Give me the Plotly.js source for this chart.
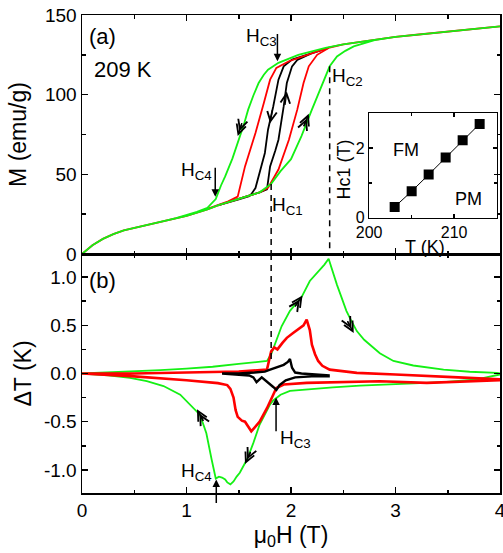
<!DOCTYPE html>
<html><head><meta charset="utf-8">
<script src="https://cdn.plot.ly/plotly-3.0.1.min.js"></script>
<style>html,body{margin:0;padding:0;background:#fff}#chart{width:503px;height:553px}</style>
</head><body><div id="chart"></div>
<script>
// ---------- panel (a): magnetisation M (emu/g) vs field (T) ----------
const lowH = [0,0.1,0.2,0.3,0.4,0.5,0.6,0.7,0.8,0.9,1.0,1.1,1.2,1.3,1.4,1.5,1.6,1.7];
const lowM = [0,5.5,9.5,12.5,14.8,16.3,17.8,19.5,21,22.5,24,26,28,30.5,32.5,34.3,36.3,38.7];
const upH = [2.5,2.7,3.0,3.2,3.5,3.8,4.0];
const upM = [131.5,133.5,136.3,137.6,139.5,141.3,142.8];

const gAscH = [1.81,1.9,2.0,2.1,2.2,2.3,2.37,2.44,2.52,2.6,2.7,2.8];
const gAscM = [44,52,59.5,74,90.6,107,117.8,124,127.5,130.3,132.3,134.2];
const gDscH = [2.33,2.07,1.88,1.78,1.74,1.69,1.64,1.59,1.55,1.50,1.44,1.37,1.33,1.28,1.2,1.1,1.0];
const gDscM = [129.3,125,120,115.7,112.5,107.3,99.5,90.6,81.5,71.7,60,48.7,43,34.5,29,26.5,24.3];

const rAscH = [1.78,1.88,1.98,2.06,2.12,2.17,2.25,2.36];
const rAscM = [41.5,53,71.7,90.6,107.3,117.8,125,129.3];
const rDscH = [2.36,2.17,1.98,1.86,1.80,1.74,1.66,1.56,1.49,1.4];
const rDscM = [129.5,125.3,121,116.8,109.4,94.8,76,55,36,33];

const kAscH = [1.77,1.80,1.85,1.88,1.93,1.96,2.01,2.06,2.2,2.36];
const kAscM = [40.5,55,65,71.7,92.6,107.3,117.8,121.8,126,129.3];
const kDscH = [2.36,2.2,2.01,1.93,1.88,1.83,1.78,1.75,1.70,1.66,1.62];
const kDscM = [129.3,126,122,117.8,109.4,92.6,78,63.4,50.8,41.4,37.5];

// ---------- panel (b): temperature change dT (K) vs field ----------
const gTupH = [0,0.25,0.5,0.75,1.0,1.25,1.5,1.65,1.77,1.81,1.86,1.91,1.99,2.05,2.10,2.18,2.23,2.28,2.32,2.36,2.40,2.44,2.48,2.53,2.58,2.63,2.70,2.76,2.85,2.98,3.17,3.46,3.71,3.97,4.0];
const gTupT = [0,0.01,0.02,0.035,0.05,0.07,0.10,0.115,0.13,0.2,0.34,0.49,0.65,0.73,0.79,0.96,1.02,1.08,1.13,1.19,1.05,0.92,0.80,0.65,0.54,0.44,0.35,0.29,0.21,0.13,0.083,0.04,0.018,0.007,0.0];
const gTdnH = [4.0,3.78,3.46,2.98,2.66,2.4,2.15,1.99,1.90,1.86,1.83,1.80,1.77,1.74,1.70,1.64,1.58,1.55,1.51,1.48,1.45,1.42,1.39,1.37,1.34,1.31,1.28,1.24,1.19,1.13,1.05,0.94,0.78,0.62,0.46,0.25,0];
const gTdnT = [-0.01,-0.062,-0.09,-0.107,-0.125,-0.145,-0.166,-0.18,-0.22,-0.25,-0.28,-0.32,-0.38,-0.45,-0.53,-0.72,-0.89,-0.95,-1.03,-1.07,-1.12,-1.15,-1.13,-1.10,-1.08,-1.07,-1.09,-0.89,-0.62,-0.43,-0.34,-0.22,-0.13,-0.08,-0.045,-0.02,0];

const rTupH = [0,0.5,1.0,1.5,1.77,1.81,1.84,1.87,1.92,1.96,2.02,2.07,2.12,2.15,2.18,2.20,2.23,2.26,2.30,2.37,2.5,2.63,3.0,3.3,3.6,4.0];
const rTupT = [0,0.0,0.01,0.02,0.04,0.23,0.27,0.25,0.32,0.37,0.42,0.46,0.50,0.56,0.45,0.30,0.2,0.13,0.08,0.04,0.02,0.007,-0.01,-0.028,-0.04,-0.06];
const rTdnH = [4.0,3.3,2.85,2.15,1.93,1.86,1.83,1.77,1.70,1.66,1.62,1.59,1.56,1.53,1.51,1.49,1.47,1.45,1.42,1.39,1.3,1.0,0.5,0];
const rTdnT = [-0.07,-0.097,-0.08,-0.097,-0.114,-0.15,-0.22,-0.36,-0.50,-0.55,-0.60,-0.55,-0.50,-0.49,-0.47,-0.45,-0.38,-0.25,-0.16,-0.12,-0.10,-0.07,-0.03,0];

const kTupH = [1.34,1.5,1.65,1.75,1.80,1.86,1.93,1.97,1.99,2.01,2.04,2.1,2.2,2.36];
const kTupT = [0.0,0.0,0.01,0.02,0.04,0.06,0.09,0.12,0.15,0.06,0.01,0.0,-0.01,-0.02];
const kTdnH = [2.36,2.2,2.04,1.95,1.89,1.86,1.83,1.77,1.72,1.67,1.64,1.60,1.5,1.34];
const kTdnT = [-0.03,-0.03,-0.04,-0.07,-0.12,-0.17,-0.14,-0.09,-0.04,-0.09,-0.04,-0.02,-0.01,0.0];

// ---------- inset: Hc1 vs T ----------
const insT = [203,205,207,209,211,213];
const insH = [0.31,0.76,1.24,1.73,2.23,2.70];

const GREEN = '#14f014', RED = '#ff0000', BLACK = '#000000';
const FONT = 'Liberation Sans, Arial, Helvetica, sans-serif';

function loop(aH, aM, dH, dM, minH) {
  const x = [], y = [];
  lowH.forEach((h, i) => { if (h >= minH && h < aH[0] - 1e-9) { x.push(h); y.push(lowM[i]); } });
  aH.forEach((h, i) => { x.push(h); y.push(aM[i]); });
  if (minH === 0) upH.forEach((h, i) => { if (h > aH[aH.length - 1] + 1e-9) { x.push(h); y.push(upM[i]); } });
  if (minH === 0) for (let i = upH.length - 1; i >= 0; i--) if (upH[i] > dH[0] + 1e-9) { x.push(upH[i]); y.push(upM[i]); }
  dH.forEach((h, i) => { x.push(h); y.push(dM[i]); });
  for (let i = lowH.length - 1; i >= 0; i--) if (lowH[i] >= minH && lowH[i] < dH[dH.length - 1] - 1e-9) { x.push(lowH[i]); y.push(lowM[i]); }
  return {x, y};
}

const kL = loop(kAscH, kAscM, kDscH, kDscM, 1.3);
const rL = loop(rAscH, rAscM, rDscH, rDscM, 0);
const gL = loop(gAscH, gAscM, gDscH, gDscM, 0);

function ln(xs, ys, color, w, xa, ya) {
  return {x: xs, y: ys, type: 'scatter', mode: 'lines', line: {color: color, width: w},
          xaxis: xa, yaxis: ya, hoverinfo: 'skip', showlegend: false};
}

const traces = [
  ln(kL.x, kL.y, BLACK, 1.8, 'x', 'y'),
  ln(rL.x, rL.y, RED, 1.8, 'x', 'y'),
  ln(gL.x, gL.y, GREEN, 1.8, 'x', 'y'),
  ln(gTupH.concat(gTdnH), gTupT.concat(gTdnT), GREEN, 1.8, 'x2', 'y2'),
  ln(rTupH.concat(rTdnH), rTupT.concat(rTdnT), RED, 2.6, 'x2', 'y2'),
  ln(kTupH.concat(kTdnH), kTupT.concat(kTdnT), BLACK, 2.4, 'x2', 'y2'),
  {x: insT, y: insH, type: 'scatter', mode: 'lines+markers', xaxis: 'x3', yaxis: 'y3',
   line: {color: '#000', width: 1}, marker: {symbol: 'square', size: 10, color: '#000'},
   hoverinfo: 'skip', showlegend: false}
];

const axBase = {showline: true, linecolor: '#000', linewidth: 1.5, mirror: 'allticks',
  ticks: 'inside', ticklen: 6, tickwidth: 1.5, tickcolor: '#000', showgrid: false, zeroline: false,
  ticklabeloverflow: 'allow',
  tickfont: {family: FONT, size: 19, color: '#000'}};

function chev(xa, ya, x, y, dx, dy, dbl) {
  const n = Math.hypot(dx, dy), L = 15;
  const base = {xref: xa, yref: ya, x: x, y: y, ax: -dx / n * L, ay: -dy / n * L,
    text: '', showarrow: true, arrowhead: 5, arrowsize: 1.45, arrowwidth: 1.3, arrowcolor: '#000'};
  return dbl ? [base, Object.assign({}, base, {standoff: 5})] : [base];
}
function txt(xa, ya, x, y, t, size, angle) {
  return {xref: xa, yref: ya, x: x, y: y, text: t, showarrow: false, xanchor: 'center', yanchor: 'middle',
    textangle: angle || 0, font: {family: FONT, size: size, color: '#000'}};
}
function arr(xa, ya, x, y, y0) {
  return {xref: xa, yref: ya, x: x, y: y, axref: xa, ayref: ya, ax: x, ay: y0, text: '',
    showarrow: true, arrowhead: 2, arrowsize: 1, arrowwidth: 1.5, arrowcolor: '#000'};
}

const annotations = [
  txt('paper', 'paper', 0.048, 0.955, '(a)', 22),
  txt('paper', 'paper', 0.097, 0.885, '209 K', 22),
  txt('paper', 'paper', 0.05, 0.444, '(b)', 22),
  txt('x', 'y', 1.714, 136, 'H<sub>C3</sub>', 19),
  arr('x', 'y', 1.87, 121, 139),
  txt('x', 'y', 1.10, 52, 'H<sub>C4</sub>', 19),
  arr('x', 'y', 1.275, 36, 55),
  txt('x', 'y', 2.54, 111, 'H<sub>C2</sub>', 19),
  txt('x', 'y', 1.97, 30, 'H<sub>C1</sub>', 19),
  txt('x2', 'y2', 2.04, -0.68, 'H<sub>C3</sub>', 19),
  arr('x2', 'y2', 1.857, -0.25, -0.616),
  txt('x2', 'y2', 1.095, -1.02, 'H<sub>C4</sub>', 19),
  arr('x2', 'y2', 1.285, -1.10, -1.36),
  txt('x3', 'y3', 204.3, 1.95, 'FM', 18),
  txt('x3', 'y3', 211.7, 0.55, 'PM', 18),
  txt('paper', 'paper', 0.8206, 0.515, 'T (K)', 18),
  txt('paper', 'paper', 0.626, 0.676, 'Hc1 (T)', 18, -90)
].concat(
  chev('x', 'y', 1.49, 74, -11, 34, true),
  chev('x', 'y', 2.17, 88, 10.5, -26, true),
  chev('x', 'y', 1.80, 82, -5, 30, false),
  chev('x', 'y', 1.96, 102, 4, -30, false),
  chev('x2', 'y2', 2.11, 0.81, 20, -30, true),
  chev('x2', 'y2', 2.60, 0.42, 10.5, 20, true),
  chev('x2', 'y2', 1.56, -0.94, -13.6, 30, true),
  chev('x2', 'y2', 1.10, -0.37, -14.6, -27, true)
);

const dashLine = {color: '#000', width: 1.5, dash: '6px,5px'};
const shapes = [
  {type: 'line', xref: 'x', yref: 'y', x0: 1.81, x1: 1.81, y0: 44, y1: 0, line: dashLine},
  {type: 'line', xref: 'x2', yref: 'y2', x0: 1.81, x1: 1.81, y0: 1.24, y1: 0.11, line: dashLine},
  {type: 'line', xref: 'x', yref: 'y', x0: 2.37, x1: 2.37, y0: 117.8, y1: 0, line: dashLine}
];

const layout = {
  width: 503, height: 553,
  margin: {l: 82, r: 3, t: 15, b: 60},
  paper_bgcolor: '#fff', plot_bgcolor: 'rgba(0,0,0,0)',
  font: {family: FONT, color: '#000'},
  showlegend: false,
  xaxis: Object.assign({}, axBase, {domain: [0, 1], anchor: 'y', range: [0, 4], dtick: 1, tick0: 0,
    showticklabels: false, minor: {dtick: 0.5, ticks: 'inside', ticklen: 3.5, tickcolor: '#000'}}),
  yaxis: Object.assign({}, axBase, {domain: [0.5, 1], anchor: 'x', range: [0, 150], dtick: 50, tick0: 0,
    minor: {dtick: 25, ticks: 'inside', ticklen: 3.5, tickcolor: '#000'},
    title: {text: 'M (emu/g)', font: {family: FONT, size: 23, color: '#000'}, standoff: 12}}),
  xaxis2: Object.assign({}, axBase, {domain: [0, 1], anchor: 'y2', range: [0, 4], dtick: 1, tick0: 0,
    minor: {dtick: 0.5, ticks: 'inside', ticklen: 3.5, tickcolor: '#000'},
    title: {text: 'μ<sub>0</sub>H (T)', font: {family: FONT, size: 23, color: '#000'}, standoff: 6}}),
  yaxis2: Object.assign({}, axBase, {domain: [0, 0.5], anchor: 'x2', range: [-1.24, 1.24],
    tickmode: 'array', tickvals: [-1, -0.5, 0, 0.5, 1], ticktext: ['-1.0', '-0.5', '0.0', '0.5', '1.0'],
    minor: {tickmode: 'linear', tick0: 0, dtick: 0.25, ticks: 'inside', ticklen: 3.5, tickcolor: '#000'},
    title: {text: 'ΔT (K)', font: {family: FONT, size: 23, color: '#000'}, standoff: 6}}),
  xaxis3: Object.assign({}, axBase, {domain: [0.687, 0.992], anchor: 'y3', range: [200, 215], dtick: 10, tick0: 200,
    linewidth: 1.2, ticklen: 4, tickfont: {family: FONT, size: 16, color: '#000'},
    minor: {dtick: 5, ticks: 'inside', ticklen: 3, tickcolor: '#000'}}),
  yaxis3: Object.assign({}, axBase, {domain: [0.576, 0.794], anchor: 'x3', range: [0, 3], dtick: 2, tick0: 0,
    linewidth: 1.2, ticklen: 4, tickfont: {family: FONT, size: 16, color: '#000'},
    minor: {dtick: 1, ticks: 'inside', ticklen: 3, tickcolor: '#000'}}),
  annotations: annotations,
  shapes: shapes
};

Plotly.newPlot('chart', traces, layout, {staticPlot: true, displayModeBar: false});
</script></body></html>
